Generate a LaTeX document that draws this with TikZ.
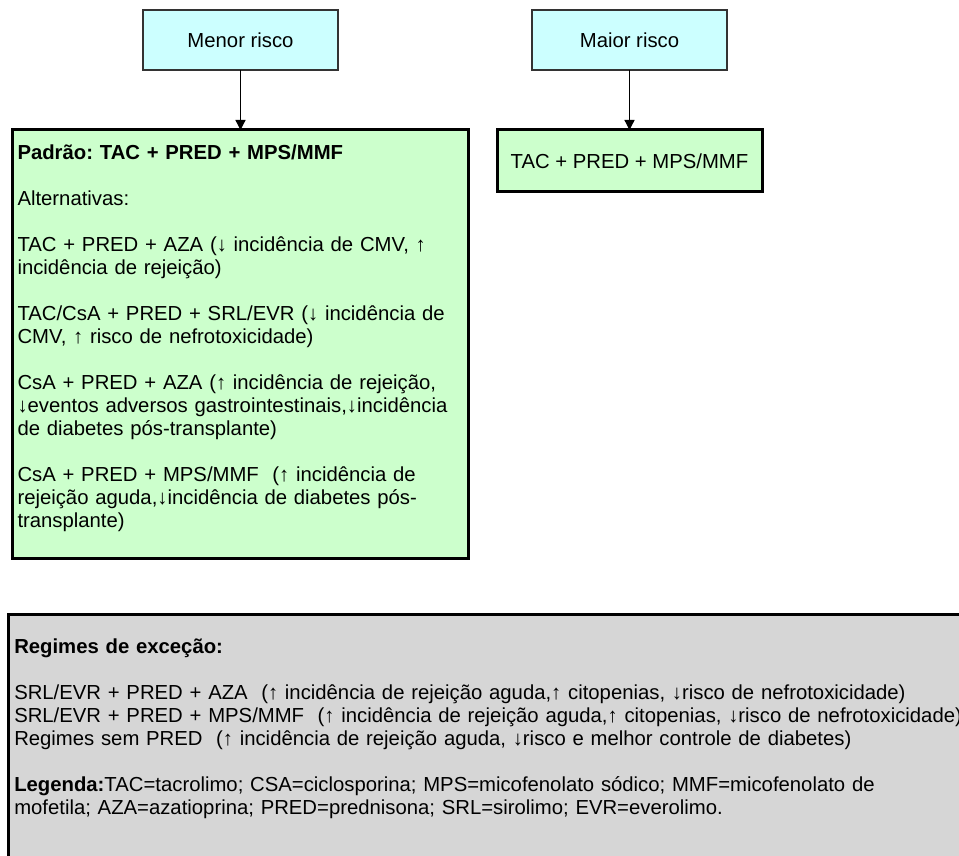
\documentclass[tikz,border=0pt]{standalone}
\usepackage{fontspec}
\setmainfont{Liberation Sans}
\usetikzlibrary{positioning,arrows.meta}
\definecolor{riscoazul}{HTML}{CCFFFF}
\definecolor{regimeverde}{HTML}{CCFFCC}
\definecolor{excecaocinza}{HTML}{D6D6D6}
\definecolor{bordacinza}{HTML}{333333}
\frenchspacing

\begin{document}
\begin{tikzpicture}[x=1pt, y=-1pt, node distance=60pt,
font=\fontsize{20.3pt}{23pt}\selectfont,
seta/.style={-{Triangle[length=10pt,width=10pt]}, line width=1.3pt},
risco/.style={rectangle, draw=bordacinza, line width=2pt, fill=riscoazul,
  minimum width=195pt, minimum height=60pt, outer sep=0pt},
regime/.style={rectangle, draw=black, line width=3pt, fill=regimeverde, outer sep=0pt},
excbox/.style={rectangle, draw=black, line width=2.5pt, fill=excecaocinza,
  align=left, inner xsep=6pt, inner ysep=10pt}]
\useasboundingbox (0,0) rectangle (959,856);
\clip (0,0) rectangle (959,856);
% grupos de risco
\node[risco] (menor) at (240.5,40) {Menor risco};
\node[risco] (maior) at (629.5,40) {Maior risco};
% esquemas
\node[regime, below=of menor, text width=446pt, inner xsep=5pt, inner ysep=10pt,
  text height=20pt, text depth=388pt, align=left] (padrao) {%
\textbf{Padrão: TAC + PRED + MPS/MMF}\\[23pt]
Alternativas:\\[23pt]
TAC + PRED + AZA (↓ incidência de CMV, ↑\\
incidência de rejeição)\\[23pt]
TAC/CsA + PRED + SRL/EVR (↓ incidência de\\
CMV, ↑ risco de nefrotoxicidade)\\[23pt]
CsA + PRED + AZA (↑ incidência de rejeição,\\
↓eventos adversos gastrointestinais,↓incidência\\
de diabetes pós-transplante)\\[23pt]
CsA + PRED + MPS/MMF\ \ (↑ incidência de\\
rejeição aguda,↓incidência de diabetes pós-\\
transplante)};
\node[regime, below=of maior, minimum width=265pt, minimum height=62pt] (maiortac)
  {TAC + PRED + MPS/MMF};
\draw[seta] (menor) -- (padrao);
\draw[seta] (maior) -- (maiortac);
% regimes de excecao
\node[excbox, anchor=north west, text width=985pt, text height=29pt, text depth=260pt]
  (excecao) at (7,613) {%
\textbf{Regimes de exceção:}\\[23pt]
SRL/EVR + PRED + AZA\ \ (↑ incidência de rejeição aguda,↑ citopenias, ↓risco de nefrotoxicidade)\\
SRL/EVR + PRED + MPS/MMF\ \ (↑ incidência de rejeição aguda,↑ citopenias, ↓risco de nefrotoxicidade)\\
Regimes sem PRED\ \ (↑ incidência de rejeição aguda, ↓risco e melhor controle de diabetes)\\[23pt]
\textbf{Legenda:}TAC=tacrolimo; CSA=ciclosporina; MPS=micofenolato sódico; MMF=micofenolato de\\
mofetila; AZA=azatioprina; PRED=prednisona; SRL=sirolimo; EVR=everolimo.};
\end{tikzpicture}
\end{document}
